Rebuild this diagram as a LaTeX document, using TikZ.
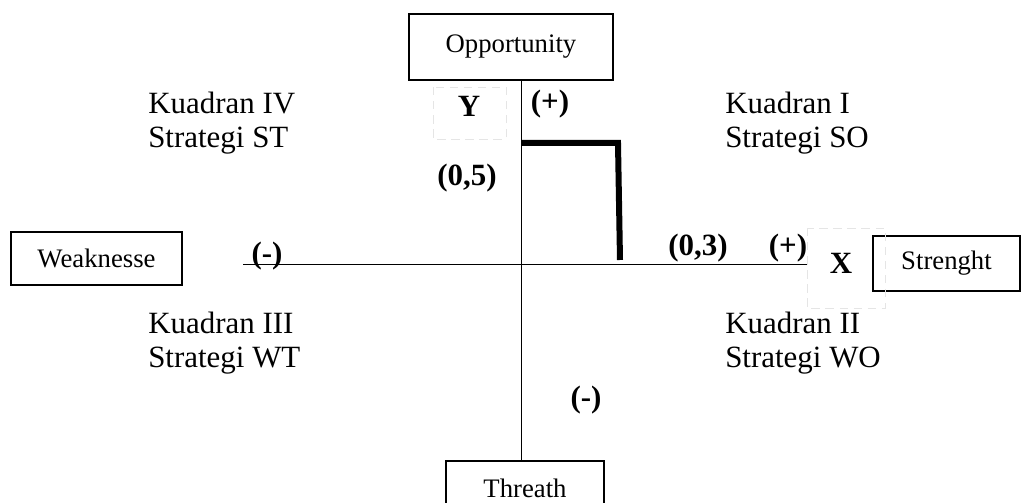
\documentclass[tikz,border=0pt]{standalone}
\usepackage{fontspec}
\setmainfont{Liberation Serif}
\usetikzlibrary{positioning}

\begin{document}
\begin{tikzpicture}[x=0.025cm,y=-0.025cm,
	box/.style={draw,line width=0.8pt,inner sep=0pt,font=\fontsize{19}{22}\selectfont},
	quad/.style={anchor=north west,inner sep=0pt,align=left,font=\fontsize{22}{24}\selectfont},
	sign/.style={inner sep=0pt,font=\fontsize{22}{24}\selectfont\bfseries},
	ghost/.style={draw=black!10,dashed,dash pattern=on 6pt off 4pt,line width=0.6pt}]
	\useasboundingbox (0,0) rectangle (1022,503);
	\node[box,minimum width=5.1cm,minimum height=1.65cm] (opp) at (511,47) {Opportunity};
	\node[box,minimum width=4.275cm,minimum height=1.325cm] (weak) at (96.5,258.5) {Weaknesse};
	\node[box,minimum width=3.675cm,minimum height=1.375cm] (str) at (946.5,263.5) {Strenght};
	\node[box,minimum width=3.95cm,minimum height=1.35cm] (thr) at (525,488) {Threath};
	\coordinate (o) at (521,264);
	\coordinate (wend) at (243,264);
	\coordinate (send) at (807,264);
	\draw[line width=0.7pt] (o |- opp.south) -- (o |- thr.north);
	\draw[line width=0.7pt] (wend) -- (send);
	\coordinate (pa) at (521,143);
	\coordinate (pb) at (618,143);
	\coordinate (pc) at (620,260);
	\draw[line width=0.15cm] (pa) -- (pb) -- (pc);
	\draw[ghost] (433,87) rectangle (506,139);
	\draw[ghost] (807,228) rectangle (885,308);
	\node[quad] (kiv) at (148,92) {Kuadran IV\\Strategi ST};
	\node[quad] (ki) at (725,92) {Kuadran I\\Strategi SO};
	\node[quad] (kiii) at (148,312) {Kuadran III\\Strategi WT};
	\node[quad] (kii) at (725,312) {Kuadran II\\Strategi WO};
	\node[sign] (y) at (469,106) {Y};
	\node[sign] (oplus) at (550,104) {(+)};
	\node[sign] (yval) at (467,178) {(0,5)};
	\node[sign] (wminus) at (267,256) {(-)};
	\node[sign] (xval) at (698,248) {(0,3)};
	\node[sign] (splus) at (788,248) {(+)};
	\node[sign] (x) at (841,263) {X};
	\node[sign] (tminus) at (586,400) {(-)};
\end{tikzpicture}
\end{document}
